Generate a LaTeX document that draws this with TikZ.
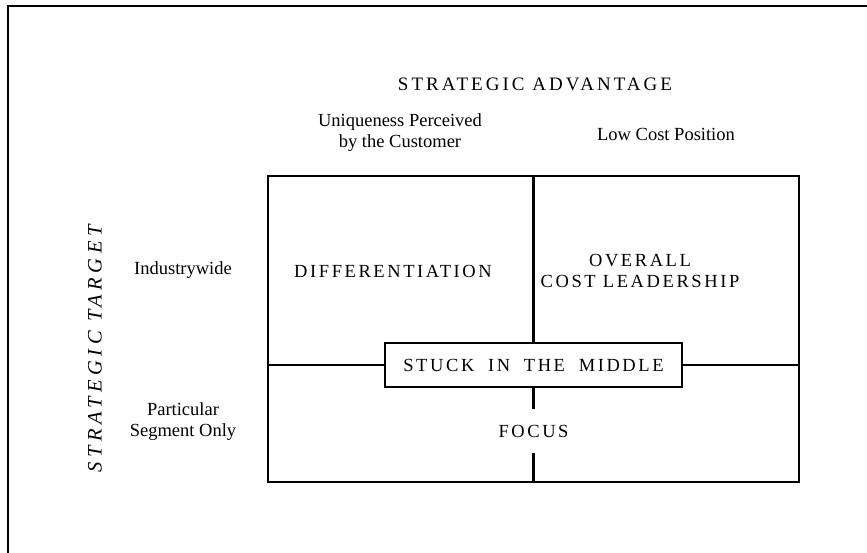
\documentclass[tikz,border=0pt]{standalone}
\usepackage{fontspec}
\setmainfont{Liberation Serif}
\newfontfamily\spacedfont[LetterSpace=14]{Liberation Serif}
\newfontfamily\spacedtitle[LetterSpace=16]{Liberation Serif}
\newfontfamily\spacedside[LetterSpace=22]{Liberation Serif}
\newcommand{\wsp}{\ \hspace{6.5pt}}
\begin{document}
\begin{tikzpicture}[x=1pt,y=-1pt,
  lbl/.style={font=\fontsize{18.5}{21}\selectfont, align=center, inner sep=0pt},
  caps/.style={font=\fontsize{18.5}{21}\spacedfont, align=center, inner sep=0pt},
  gridline/.style={line width=2.8pt, black},
  stuckbox/.style={draw, line width=2.8pt, minimum width=297pt, minimum height=44pt, fill=white,
    font=\fontsize{18.5}{21}\spacedfont, inner sep=0pt},
  focusbox/.style={fill=white, minimum width=80pt, minimum height=44pt,
    font=\fontsize{18.5}{21}\spacedfont, inner sep=0pt}]
\useasboundingbox (0,0) rectangle (867,552);
% outer frame (clipped on right and bottom)
\draw[line width=2pt] (8,560) -- (8,6) -- (875,6);
% grid
\node[draw, line width=2.8pt, minimum width=531pt, minimum height=306pt, inner sep=0pt] (grid) at (533.5,329) {};
\coordinate (tm) at (533.5,176);
\coordinate (bm) at (533.5,482);
\coordinate (lm) at (268,365);
\coordinate (rm) at (799,365);
\node[stuckbox] (stuck) at (533.5,365) {STUCK\wsp IN\wsp THE\wsp MIDDLE};
\draw[gridline] (tm) -- (stuck.north);
\draw[gridline] (lm) -- (stuck.west);
\draw[gridline] (stuck.east) -- (rm);
\draw[gridline] (stuck.south) -- (bm);
\node[focusbox] (focus) at (533.5,431) {FOCUS};
% cells
\node[caps] (diff) at (393,271) {DIFFERENTIATION};
\node[caps] (cost) at (640,271) {OVERALL\\COST LEADERSHIP};
% headers
\node[lbl, font=\fontsize{19}{21}\spacedtitle] (adv) at (535,84) {STRATEGIC ADVANTAGE};
\node[lbl] (uniq) at (400,133) {Uniqueness Perceived\\by the Customer};
\node[lbl] (low) at (666,134) {Low Cost Position};
\node[lbl] (ind) at (183,270) {Industrywide};
\node[lbl] (part) at (183,422) {Particular\\Segment Only};
\node[lbl, rotate=90, font=\fontsize{20.5}{22}\spacedside\itshape] (target) at (95,349) {STRATEGIC TARGET};
\end{tikzpicture}
\end{document}
